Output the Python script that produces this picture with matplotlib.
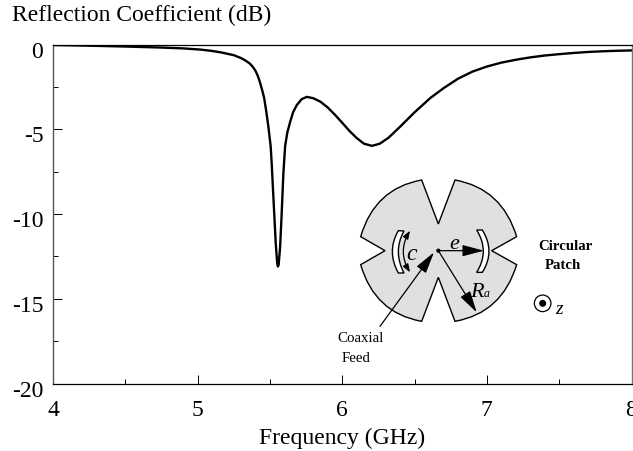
import matplotlib
matplotlib.use('Agg')
import matplotlib.pyplot as plt
from matplotlib.patches import PathPatch, Circle
from matplotlib.path import Path
from matplotlib.transforms import ScaledTranslation

plt.rcParams['font.family'] = ['Liberation Serif', 'DejaVu Serif']

# curve
freq = [4.0, 4.25, 4.5, 4.75, 4.9, 5.02, 5.1, 5.17, 5.25, 5.3, 5.33, 5.36, 5.38, 5.4, 5.415, 5.43,
        5.445, 5.46, 5.475, 5.49, 5.505, 5.512, 5.525, 5.54, 5.55, 5.555, 5.56, 5.57, 5.58, 5.593,
        5.605, 5.62, 5.64, 5.66, 5.685, 5.72, 5.755, 5.8, 5.85, 5.9, 5.95, 6.0, 6.05, 6.1, 6.15,
        6.205, 6.26, 6.32, 6.4, 6.5, 6.61, 6.7, 6.8, 6.9, 7.0, 7.1, 7.2, 7.3, 7.4, 7.5, 7.6, 7.7,
        7.8, 7.9, 8.0]
s11 = [-0.03, -0.07, -0.12, -0.18, -0.23, -0.3, -0.38, -0.48, -0.63, -0.8, -0.94, -1.12, -1.3,
       -1.55, -1.83, -2.2, -2.65, -3.15, -3.97, -4.9, -6.0, -7.0, -9.2, -11.7, -12.9, -13.1, -13.0,
       -12.0, -10.2, -7.6, -6.0, -5.2, -4.56, -4.0, -3.58, -3.22, -3.09, -3.17, -3.38, -3.72,
       -4.15, -4.62, -5.1, -5.52, -5.85, -5.98, -5.85, -5.5, -4.85, -4.0, -3.15, -2.58, -2.02,
       -1.6, -1.3, -1.07, -0.9, -0.76, -0.65, -0.57, -0.5, -0.44, -0.4, -0.37, -0.35]

x_major = [4, 5, 6, 7, 8]
x_minor = [4.5, 5.5, 6.5, 7.5]
y_major = [0, -5, -10, -15, -20]
y_minor = [-2.5, -7.5, -12.5, -17.5]

W, H = 633, 452
L, R, T, B = 53, 631.5, 45.5, 384.5

fig = plt.figure(figsize=(W / 100, H / 100), dpi=100)
ax = fig.add_axes([L / W, 1 - B / H, (R - L) / W, (B - T) / H])
ax.plot(freq, s11, color='black', lw=1.7)
ax.set_xlim(4, 8)
ax.set_ylim(-20, 0)
ax.set_xticks(x_major)
ax.set_xticks(x_minor, minor=True)
ax.set_yticks(y_major)
ax.set_yticks(y_minor, minor=True)
ax.set_xticklabels([str(v) for v in x_major], fontsize=17)
ax.set_yticklabels([str(v) for v in y_major], fontsize=17)
ax.tick_params(which='major', direction='in', length=6.8, width=0.7)
ax.tick_params(which='minor', direction='in', length=3.6, width=0.7)
ax.tick_params(axis='x', which='major', pad=11)
ax.tick_params(axis='y', which='major', pad=7)
for t in ax.get_yticklabels():
    t.set_transform(t.get_transform() + ScaledTranslation(0, -3 / 72, fig.dpi_scale_trans))
ax.spines['top'].set_linewidth(0.9)
ax.spines['bottom'].set_linewidth(0.9)
ax.spines['left'].set_linewidth(1.0)
ax.spines['right'].set_linewidth(1.0)
ax.spines['left'].set_color('#555555')
ax.spines['right'].set_color('#777777')
ax.set_facecolor('none')

# overlay in pixel coordinates for the antenna sketch
ov = fig.add_axes([0, 0, 1, 1])
ov.set_xlim(0, W)
ov.set_ylim(H, 0)
ov.axis('off')
ov.patch.set_alpha(0)


def z(px, py):
    # position measured on the 3x crop -> figure pixels
    return (330 + px / 3, 170 + py / 3)


def curved(points, codes, **kw):
    ov.add_patch(PathPatch(Path([z(*p) for p in points], codes), **kw))


M, C3, LT, CL = Path.MOVETO, Path.CURVE3, Path.LINETO, Path.CLOSEPOLY
patch_pts = [(325, 165), (375, 33), (516, 58), (560, 203), (485, 245), (560, 287), (516, 432),
             (375, 457), (325, 325), (275, 457), (134, 432), (92, 287), (165, 245), (92, 203),
             (134, 58), (275, 33), (325, 165)]
patch_codes = [M, LT, C3, C3, LT, LT, C3, C3, LT, LT, C3, C3, LT, LT, C3, C3, CL]
curved(patch_pts, patch_codes, fc='#e0e0e0', ec='black', lw=1.0, joinstyle='miter')

slot_codes = [M, C3, C3, LT, C3, C3, CL]
curved([(205, 185), (169, 247), (205, 312), (222, 312), (188, 247), (222, 186), (205, 185)],
       slot_codes, fc='white', ec='black', lw=1.0)
curved([(457, 183), (497, 247), (457, 310), (440, 310), (480, 247), (440, 183), (457, 183)],
       slot_codes, fc='white', ec='black', lw=1.0)


def arrow(a, b, style='-|>,head_length=0.95,head_width=0.25', conn=None, ms=14, lw=0.9):
    ov.annotate('', xy=z(*b), xytext=z(*a),
                arrowprops=dict(arrowstyle=style, color='black', lw=lw, mutation_scale=ms,
                                shrinkA=0, shrinkB=0, connectionstyle=conn or 'arc3'))


arrow((325, 245), (462, 245))
arrow((325, 245), (440, 430))
arrow((150, 472), (312, 250))
arrow((240, 185), (240, 310), style='<|-|>,head_length=0.6,head_width=0.22', conn='arc3,rad=0.3', ms=8)
ov.add_patch(Circle(z(325, 245), 1.4, fc='black', ec='black'))

ov.add_patch(Circle(z(638, 403), 8.3, fc='white', ec='black', lw=0.9))
ov.add_patch(Circle(z(638, 403), 2.8, fc='black', ec='black'))


def label(px, py, s, **kw):
    x, y = z(px, py)
    ov.text(x, y, s, ha='center', va='center', **kw)


label(374, 224, 'e', fontsize=16, style='italic')
label(244, 253, 'c', fontsize=17, style='italic')
label(441, 367, 'R', fontsize=16, style='italic')
label(469, 373, 'a', fontsize=8.5, style='italic')
label(687, 420, 'z', fontsize=14, style='italic')
label(705, 230, 'Circular', fontsize=10.7, fontweight='bold')
label(700, 286, 'Patch', fontsize=10.7, fontweight='bold')
label(92, 507, 'Coaxial', fontsize=10.7)
label(78, 565, 'Feed', fontsize=10.7)

ov.text(12, 15.5, 'Reflection Coefficient (dB)', fontsize=17, ha='left', va='center')
ov.text(342, 438, 'Frequency (GHz)', fontsize=17, ha='center', va='center')

fig.savefig('out.png', dpi=100)
